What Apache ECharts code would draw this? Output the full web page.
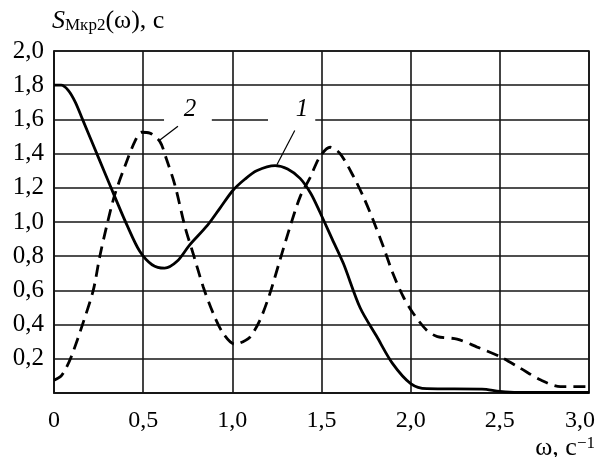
<!DOCTYPE html>
<html>
<head>
<meta charset="utf-8">
<script src="https://cdn.jsdelivr.net/npm/echarts@6/dist/echarts.min.js"></script>
<style>
html,body{margin:0;padding:0;background:#fff;}
#c{width:599px;height:457px;}
</style>
</head>
<body>
<div id="c"></div>
<script>
// Curve 1 (solid): [omega, S]
const curve1 = [
  [0, 1.80], [0.04, 1.80], [0.08, 1.77], [0.12, 1.70], [0.16, 1.60],
  [0.22, 1.45], [0.28, 1.30], [0.34, 1.15], [0.41, 0.98], [0.48, 0.83],
  [0.55, 0.75], [0.62, 0.73], [0.69, 0.77], [0.76, 0.865], [0.86, 0.98],
  [0.93, 1.08], [1.005, 1.187], [1.07, 1.25], [1.136, 1.30], [1.24, 1.33],
  [1.31, 1.31], [1.38, 1.255], [1.44, 1.167], [1.49, 1.06], [1.56, 0.90],
  [1.623, 0.757], [1.716, 0.50], [1.81, 0.33], [1.90, 0.17], [2.00, 0.055],
  [2.09, 0.025], [2.40, 0.023], [2.50, 0.01], [2.60, 0.004], [3.0, 0.004]
];
// Curve 2 (dashed): [omega, S]
const curve2 = [
  [0, 0.075], [0.04, 0.10], [0.07, 0.15], [0.10, 0.22], [0.163, 0.41],
  [0.22, 0.60], [0.257, 0.80], [0.294, 0.97], [0.34, 1.157], [0.406, 1.35],
  [0.453, 1.47], [0.49, 1.525], [0.537, 1.52], [0.594, 1.47], [0.63, 1.37],
  [0.678, 1.216], [0.735, 0.97], [0.78, 0.816], [0.837, 0.62], [0.893, 0.465],
  [0.949, 0.348], [1.015, 0.285], [1.06, 0.30], [1.10, 0.328], [1.155, 0.426],
  [1.21, 0.58], [1.267, 0.777], [1.323, 0.97], [1.38, 1.147], [1.436, 1.26],
  [1.49, 1.38], [1.548, 1.437], [1.604, 1.40], [1.68, 1.265], [1.735, 1.147],
  [1.79, 1.01], [1.847, 0.855], [1.90, 0.70], [1.96, 0.56], [2.015, 0.465],
  [2.09, 0.367], [2.15, 0.33], [2.26, 0.315], [2.37, 0.27], [2.50, 0.213],
  [2.615, 0.145], [2.73, 0.076], [2.84, 0.037], [3.0, 0.037]
];
const xTicks = [0, 0.5, 1.0, 1.5, 2.0, 2.5, 3.0];
const yTicks = [0.2, 0.4, 0.6, 0.8, 1.0, 1.2, 1.4, 1.6, 1.8, 2.0];
const curveLabels = ['1', '2'];

const FONT = 'Liberation Serif';
const fmt = v => v.toFixed(1).replace('.', ',');

const chart = echarts.init(document.getElementById('c'), null, {renderer: 'canvas'});
const gridCol = '#151515';

chart.setOption({
  animation: false,
  backgroundColor: '#fff',
  grid: {left: 54, right: 10, top: 51, bottom: 64, containLabel: false, outerBoundsMode: 'none',
         show: true, borderColor: gridCol, borderWidth: 1.6, backgroundColor: 'transparent'},
  xAxis: {
    type: 'value', min: 0, max: 3, interval: 0.5,
    axisLine: {show: true, lineStyle: {color: gridCol, width: 1.6}},
    axisTick: {show: false},
    splitLine: {show: true, lineStyle: {color: gridCol, width: 1.6}},
    axisLabel: {
      margin: 16, color: '#000', fontFamily: FONT, fontSize: 24,
      rich: {last: {fontFamily: FONT, fontSize: 24, color: '#000', padding: [0, 18, 0, 0]}},
      formatter: v => {
        if (!xTicks.some(t => Math.abs(t - v) < 1e-6)) return '';
        if (v === 0) return '0';
        if (Math.abs(v - xTicks[xTicks.length - 1]) < 1e-6) return '{last|' + fmt(v) + '}';
        return fmt(v);
      }
    }
  },
  yAxis: {
    type: 'value', min: 0, max: 2, interval: 0.2,
    axisLine: {show: true, lineStyle: {color: gridCol, width: 1.6}},
    axisTick: {show: false},
    splitLine: {show: true, lineStyle: {color: gridCol, width: 1.6}},
    axisLabel: {
      margin: 10, color: '#000', fontFamily: FONT, fontSize: 25, padding: [4, 0, 0, 0],
      formatter: v => yTicks.some(t => Math.abs(t - v) < 1e-6) ? fmt(v) : ''
    }
  },
  series: [
    {type: 'line', data: curve1, showSymbol: false, smooth: 0.3, z: 5,
     lineStyle: {color: '#000', width: 2.8}},
    {type: 'line', data: curve2, showSymbol: false, smooth: 0.3, z: 5,
     lineStyle: {color: '#000', width: 2.8, type: [12, 7]}}
  ]
});

// annotations (label text + leader lines), positioned in data space
function px(p) { return chart.convertToPixel({gridIndex: 0}, p); }
const g = [];
// white masks behind labels on the 1.6 gridline
[[0.617, 0.885], [1.20, 1.465]].forEach(r => {
  const a = px([r[0], 1.72]), b = px([r[1], 1.56]);
  g.push({type: 'rect', shape: {x: a[0], y: a[1], width: b[0] - a[0], height: b[1] - a[1]},
          style: {fill: '#fff'}, z: 3});
});
const labPos = [[1.39, 1.66], [0.762, 1.66]];
curveLabels.forEach((t, i) => {
  const p = px(labPos[i]);
  g.push({type: 'text', x: p[0], y: p[1], z: 10,
    style: {text: t, font: 'italic 25px "Liberation Serif"', fill: '#000', align: 'center', verticalAlign: 'middle'}});
});
const leaders = [[[1.35, 1.535], [1.25, 1.335]], [[0.695, 1.56], [0.594, 1.48]]];
leaders.forEach(l => {
  const a = px(l[0]), b = px(l[1]);
  g.push({type: 'line', shape: {x1: a[0], y1: a[1], x2: b[0], y2: b[1]}, z: 10,
    style: {stroke: '#000', lineWidth: 1.2}});
});
// axis titles
g.push({type: 'text', left: 52, top: 8, z: 10,
  style: {
    text: '{s|S}{sub|Мкр2}{n|(ω), с}',
    rich: {
      s: {font: 'italic 26px "Liberation Serif"', fill: '#000', verticalAlign: 'bottom'},
      sub: {font: '17px "Liberation Serif"', fill: '#000', verticalAlign: 'bottom', padding: [0, 0, 0, 0]},
      n: {font: '26px "Liberation Serif"', fill: '#000', verticalAlign: 'bottom'}
    }
  }});
g.push({type: 'text', right: 4, bottom: -4, z: 10,
  style: {
    text: '{n|ω, с}{sup|−1}',
    rich: {
      n: {font: '26px "Liberation Serif"', fill: '#000', verticalAlign: 'bottom'},
      sup: {font: '17px "Liberation Serif"', fill: '#000', verticalAlign: 'top'}
    }
  }});
chart.setOption({graphic: g});
</script>
</body>
</html>
